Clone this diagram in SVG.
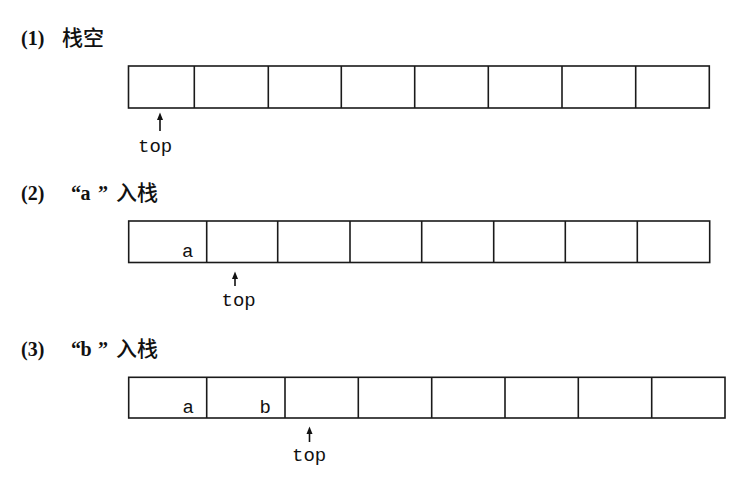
<svg xmlns="http://www.w3.org/2000/svg" width="749" height="484" viewBox="0 0 749 484">
<style>
  .cell { fill: none; stroke: #1a1a1a; stroke-width: 1.6; }
  .title { font-family: "Liberation Serif", "Noto Sans CJK SC", serif; font-size: 20px; font-weight: bold; fill: #111; }
  .cjk { font-family: "Noto Sans CJK SC", sans-serif; font-size: 21px; font-weight: 500; fill: #111; }
  .mono { font-family: "Liberation Mono", monospace; font-size: 19px; fill: #111; }
  .ptr { stroke: #111; stroke-width: 1.6; fill: none; }
</style>
<rect width="749" height="484" fill="#ffffff"/>

<!-- Stage 1 -->
<g id="title1">
  <text class="title" x="21" y="44.5">(1)</text>
  <text class="cjk" x="62" y="44.5">栈空</text>
</g>
<g id="stack1">
  <rect class="cell" x="128.5" y="66" width="580.8" height="42"/>
  <path class="cell" d="M194.3 66V108M268.3 66V108M341.3 66V108M414.7 66V108M488.3 66V108M562 66V108M635.7 66V108"/>
</g>

<!-- Stage 2 -->
<g id="title2">
  <text class="title" x="21" y="200">(2)</text>
  <text class="title" x="71 80.5 98" y="200">“a”</text>
  <text class="cjk" x="116" y="200">入栈</text>
</g>
<g id="stack2">
  <rect class="cell" x="128.7" y="221" width="581" height="41.5"/>
  <path class="cell" d="M206.7 221V262.5M277.7 221V262.5M350 221V262.5M421.7 221V262.5M493.7 221V262.5M565.3 221V262.5M637.3 221V262.5"/>
  <text class="mono" x="182" y="257">a</text>
</g>

<!-- Stage 3 -->
<g id="title3">
  <text class="title" x="21" y="356">(3)</text>
  <text class="title" x="71 80.5 98" y="356">“b”</text>
  <text class="cjk" x="116" y="356">入栈</text>
</g>
<g id="stack3">
  <rect class="cell" x="128.7" y="377.3" width="596.3" height="40.7"/>
  <path class="cell" d="M206.7 377.3V418M285 377.3V418M358.3 377.3V418M431.7 377.3V418M505 377.3V418M578.3 377.3V418M651.7 377.3V418"/>
  <text class="mono" x="182.5" y="413">a</text>
  <text class="mono" x="259.5" y="413">b</text>
</g>

<!-- top pointers -->
<g id="connectors">
  <line class="ptr" x1="160" y1="131" x2="160" y2="118" />
  <path d="M157 120 L160 112.5 L163 120 Z" fill="#111"/>
  <line class="ptr" x1="235" y1="286" x2="235" y2="277" />
  <path d="M232 279 L235 271.5 L238 279 Z" fill="#111"/>
  <line class="ptr" x1="309.5" y1="442" x2="309.5" y2="432" />
  <path d="M306.5 434 L309.5 426.5 L312.5 434 Z" fill="#111"/>
</g>
<g id="labels">
  <text class="mono" x="138" y="151.5">top</text>
  <text class="mono" x="221.5" y="306">top</text>
  <text class="mono" x="292" y="460.5">top</text>
</g>
</svg>
